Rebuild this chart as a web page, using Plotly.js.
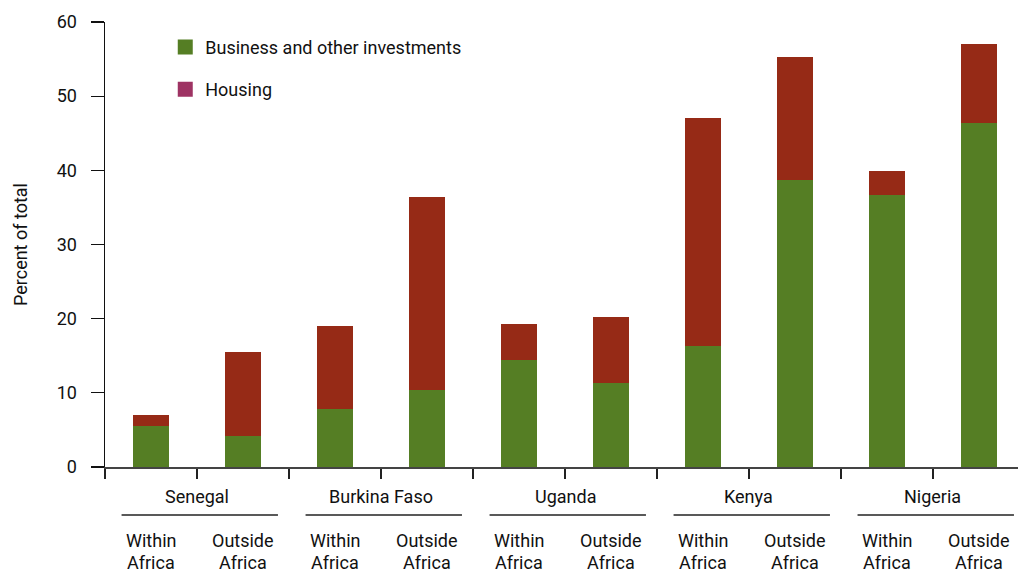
<!DOCTYPE html>
<html><head><meta charset="utf-8">
<script src="https://cdn.plot.ly/plotly-3.0.1.min.js"></script>
<style>html,body{margin:0;padding:0;background:#fff}#chart{width:1018px;height:574px}</style>
</head><body><div id="chart"></div>
<script>
const countries = ["Senegal", "Burkina Faso", "Uganda", "Kenya", "Nigeria"];
const locations = ["Within<br>Africa", "Outside<br>Africa"];
const business = [5.5, 4.2, 7.8, 10.4, 14.4, 11.3, 16.3, 38.7, 36.7, 46.4];
const totals   = [7.0, 15.5, 19.0, 36.4, 19.3, 20.2, 47.1, 55.3, 39.9, 57.0];
const housing = totals.map((t, i) => +(t - business[i]).toFixed(1));
const yTicks = [0, 10, 20, 30, 40, 50, 60];

const xs = business.map((_, i) => i);
const FONT = "Roboto, 'Noto Sans', sans-serif";

const traces = [
  {type: "bar", x: xs, y: business, name: "Business and other investments", showlegend: false,
   marker: {color: "#557e24"}, width: 0.4, hoverinfo: "y"},
  {type: "bar", x: xs, y: housing, name: "Housing", showlegend: false,
   marker: {color: "#962a16"}, width: 0.4, hoverinfo: "y"},
  {type: "scatter", mode: "markers", x: [null], y: [null], name: "Business and other investments",
   marker: {color: "#557e24", symbol: "square", size: 15}, legendgroup: "b"},
  {type: "scatter", mode: "markers", x: [null], y: [null], name: "Housing",
   marker: {color: "#9e3363", symbol: "square", size: 15}, legendgroup: "h"}
];

const annotations = [];
countries.forEach((c, g) => {
  annotations.push({x: 2 * g + 0.5, y: -0.067, xref: "x", yref: "paper", text: c,
    showarrow: false, font: {size: 18, color: "#111"}, xanchor: "center", yanchor: "middle"});
  locations.forEach((l, k) => {
    const parts = l.split("<br>");
    annotations.push({x: 2 * g + k, y: -0.166, xref: "x", yref: "paper", text: parts[0],
      showarrow: false, font: {size: 18, color: "#111"}, xanchor: "center", yanchor: "middle"});
    annotations.push({x: 2 * g + k, y: -0.2157, xref: "x", yref: "paper", text: parts[1],
      showarrow: false, font: {size: 18, color: "#111"}, xanchor: "center", yanchor: "middle"});
  });
});

const shapes = countries.map((c, g) => ({
  type: "line", xref: "x", yref: "paper",
  x0: 2 * g + 0.53 - 0.85, x1: 2 * g + 0.53 + 0.85, y0: -0.108, y1: -0.108,
  line: {color: "#222", width: 1.5}
}));

const layout = {
  width: 1018, height: 574,
  margin: {l: 105, r: 0, t: 22, b: 107},
  paper_bgcolor: "#fff", plot_bgcolor: "#fff",
  font: {family: FONT, size: 18, color: "#111"},
  barmode: "stack",
  showlegend: true,
  legend: {x: 0.066, y: 0.985, xanchor: "left", yanchor: "top",
    font: {size: 18, color: "#111"}, tracegroupgap: 16, traceorder: "grouped",
    bgcolor: "rgba(0,0,0,0)"},
  xaxis: {range: [-0.5, 9.424], showgrid: false, zeroline: false,
    showline: true, linecolor: "#444", linewidth: 2,
    tickmode: "array", tickvals: [-0.5, 0.5, 1.5, 2.5, 3.5, 4.5, 5.5, 6.5, 7.5, 8.5],
    ticktext: ["", "", "", "", "", "", "", "", "", ""],
    ticks: "outside", ticklen: 10, tickwidth: 1.5, tickcolor: "#222"},
  yaxis: {range: [0, 60], showgrid: false, zeroline: false,
    showline: true, linecolor: "#111", linewidth: 1.5,
    tickmode: "array", tickvals: yTicks,
    ticks: "outside", ticklen: 13, tickwidth: 1.2, tickcolor: "#111",
    ticklabelstandoff: 10,
    tickfont: {size: 18, color: "#111"},
    title: {text: "Percent of total", font: {size: 18, color: "#111"}, standoff: 24}},
  annotations: annotations,
  shapes: shapes
};

Plotly.newPlot("chart", traces, layout, {displayModeBar: false, staticPlot: true});
</script></body></html>
